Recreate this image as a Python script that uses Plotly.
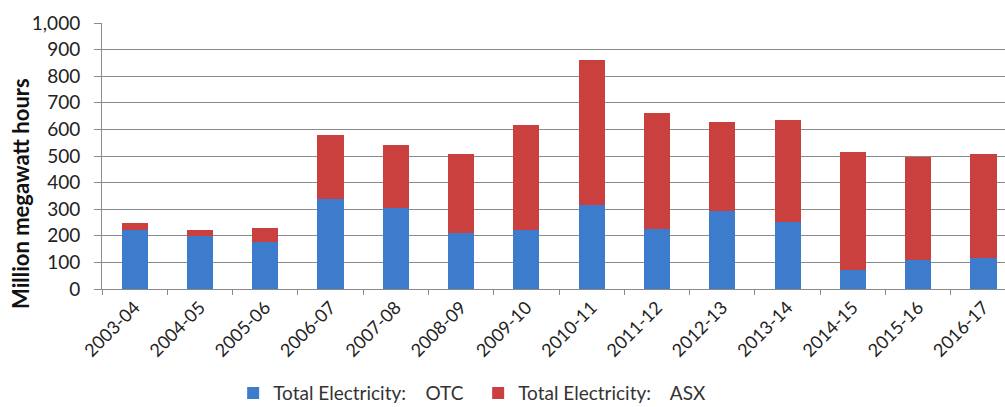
import plotly.graph_objects as go

# Financial years
years = ["2003-04", "2004-05", "2005-06", "2006-07", "2007-08", "2008-09", "2009-10",
         "2010-11", "2011-12", "2012-13", "2013-14", "2014-15", "2015-16", "2016-17"]

# Traded volumes, million MWh
otc = [222, 200, 178, 338, 304, 210, 222, 314, 225, 294, 251, 72, 109, 115]
asx = [28, 20, 51, 240, 238, 297, 393, 546, 437, 335, 383, 443, 387, 392]

y_ticks = [0, 100, 200, 300, 400, 500, 600, 700, 800, 900, 1000]
y_title = "Million megawatt hours"

FONT = "Lato, 'Open Sans', sans-serif"
GRID = "#8a8a8a"
SP = "\u00a0" * 4

fig = go.Figure()
fig.add_trace(go.Bar(x=years, y=otc, name="Total Electricity:" + SP + "OTC",
                     marker=dict(color="#3d7bcc", line=dict(width=0))))
fig.add_trace(go.Bar(x=years, y=asx, name="Total Electricity:" + SP + "ASX",
                     marker=dict(color="#c9403e", line=dict(width=0))))

fig.update_layout(
    width=1005, height=407,
    barmode="stack", bargap=0.6,
    margin=dict(l=102, r=0, t=23, b=118),
    plot_bgcolor="white", paper_bgcolor="white",
    font=dict(family=FONT, size=17, color="#222222"),
    showlegend=True,
    legend=dict(orientation="h", xref="container", yref="container",
                x=0.232, xanchor="left", y=0.034, yanchor="middle",
                font=dict(size=19, color="#333333"), traceorder="normal",
                itemwidth=30, entrywidth=200, entrywidthmode="pixels"),
    xaxis=dict(
        type="category", range=[-0.5, 13.33],
        tickangle=-45, tickson="boundaries", ticks="outside", ticklen=5,
        tickcolor=GRID, showline=True, linecolor=GRID, linewidth=1,
        showgrid=False, tickfont=dict(size=18),
    ),
    yaxis=dict(
        range=[0, 1000], tickvals=y_ticks, tickformat=",d",
        ticks="outside", ticklen=7, tickcolor=GRID,
        showline=True, linecolor=GRID, linewidth=1,
        showgrid=True, gridcolor=GRID, gridwidth=1,
        tickfont=dict(size=19), ticklabelstandoff=10,
        zeroline=False,
    ),
)

# Axis title placed lower than the axis midpoint
fig.add_annotation(text="<b>" + y_title + "</b>", textangle=-90,
                   xref="paper", yref="paper", x=-0.09, y=0.36,
                   xanchor="center", yanchor="middle", showarrow=False,
                   font=dict(size=22, color="#111111"))

fig.write_html("out.html")
